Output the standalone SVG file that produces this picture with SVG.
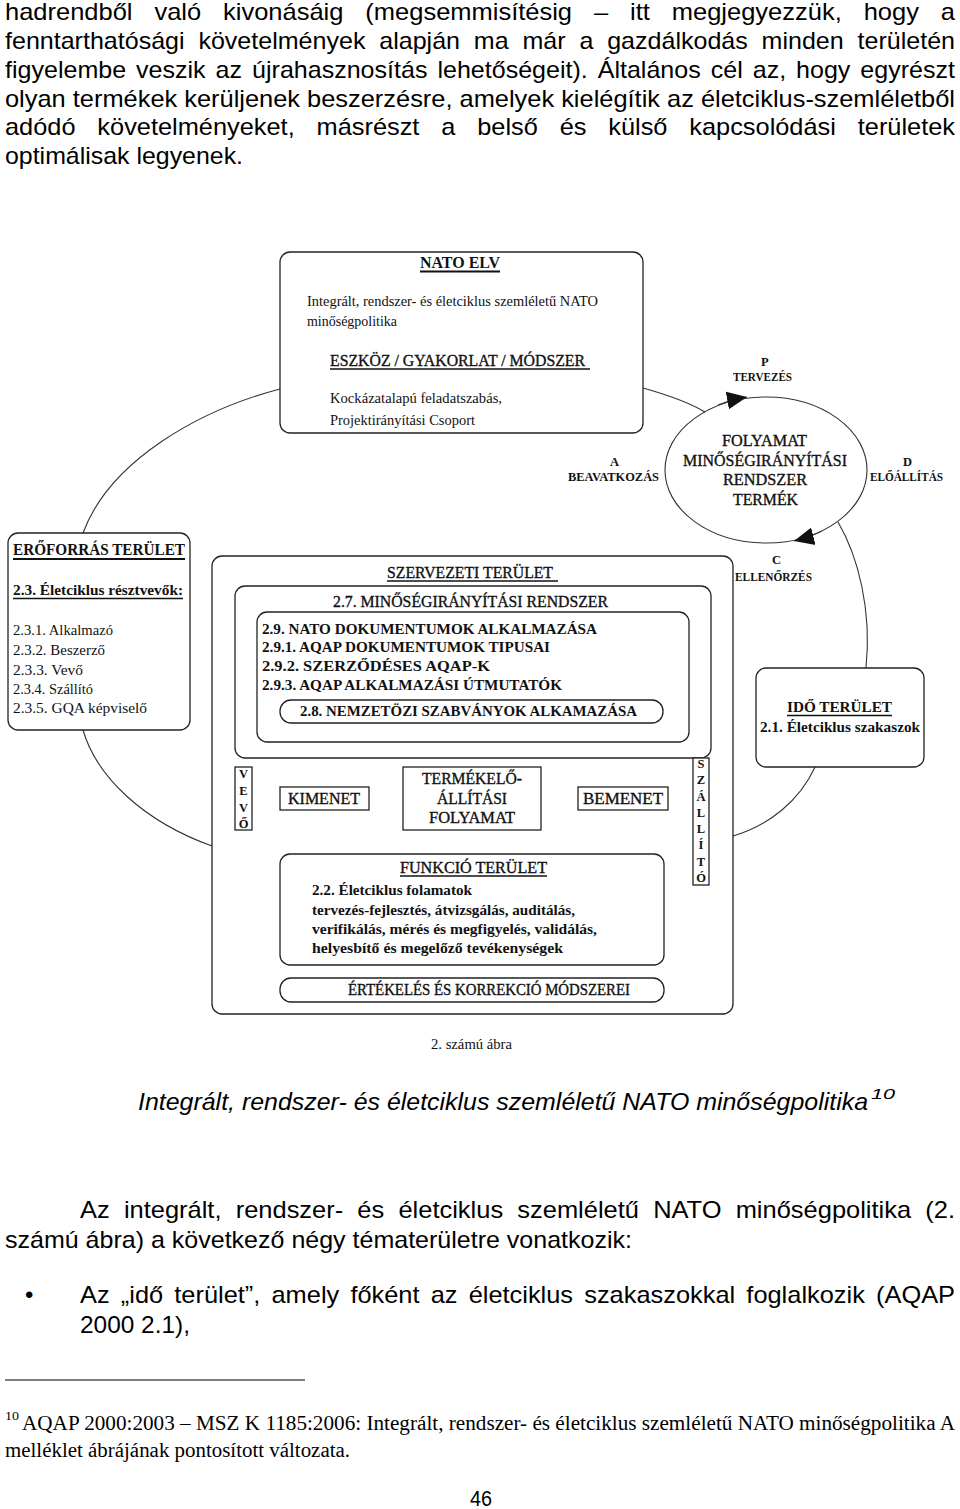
<svg xmlns="http://www.w3.org/2000/svg" width="960" height="1509" viewBox="0 0 960 1509">
<defs>
<style>
.p{font-family:"Liberation Sans",Arial,sans-serif;font-size:24px;fill:#000}
.pi{font-family:"Liberation Sans",Arial,sans-serif;font-size:24px;font-style:italic;fill:#000}
.f{font-family:"Liberation Serif","Times New Roman",serif;font-size:20px;fill:#000}
.t{font-family:"Liberation Serif","Times New Roman",serif;font-size:15px;fill:#111}
.th{stroke:#111;stroke-width:0.35}
.s{font-family:"Liberation Serif","Times New Roman",serif;font-size:12.5px;font-weight:bold;fill:#111}
.b{font-weight:bold}
.bx{fill:#fff;stroke:#222;stroke-width:1.3}
.ln{fill:none;stroke:#333;stroke-width:1.1}
.ar{fill:none;stroke:#222;stroke-width:1.2;marker-end:url(#ah)}
.ul{stroke:#111;stroke-width:1.4}
.ub{stroke:#111;stroke-width:2.2}
</style>
<marker id="ah" viewBox="0 0 10 10" refX="10" refY="5" markerWidth="9" markerHeight="9" markerUnits="userSpaceOnUse" orient="auto"><path d="M0,0 L10,5 L0,10 z" fill="#111"/></marker>
<marker id="ahL" viewBox="0 0 10 10" refX="10" refY="5" markerWidth="20" markerHeight="20" markerUnits="userSpaceOnUse" orient="auto"><path d="M0,0.5 L10,5 L0,9.5 z" fill="#111"/></marker>
</defs>
<rect width="960" height="1509" fill="#fff"/>

<g id="paragraph-top">
<text class="p" x="5" y="20" textLength="950" lengthAdjust="spacingAndGlyphs" style="word-spacing:14px">hadrendből való kivonásáig (megsemmisítésig – itt megjegyezzük, hogy a</text>
<text class="p" x="5" y="49" textLength="950" lengthAdjust="spacingAndGlyphs" style="word-spacing:6.6px">fenntarthatósági követelmények alapján ma már a gazdálkodás minden területén</text>
<text class="p" x="5" y="78" textLength="950" lengthAdjust="spacingAndGlyphs" style="word-spacing:2.9px">figyelembe veszik az újrahasznosítás lehetőségeit). Általános cél az, hogy egyrészt</text>
<text class="p" x="5" y="107" textLength="950" lengthAdjust="spacingAndGlyphs">olyan termékek kerüljenek beszerzésre, amelyek kielégítik az életciklus-szemléletből</text>
<text class="p" x="5" y="135" textLength="950" lengthAdjust="spacingAndGlyphs" style="word-spacing:14px">adódó követelményeket, másrészt a belső és külső kapcsolódási területek</text>
<text class="p" x="5" y="164" textLength="238" lengthAdjust="spacingAndGlyphs">optimálisak legyenek.</text>
</g>

<g id="pdca">
<ellipse cx="766" cy="470" rx="101" ry="73" fill="none" stroke="#333" stroke-width="1.1"/>
<text class="t th" x="722" y="446" style="font-size:16px" textLength="85" lengthAdjust="spacingAndGlyphs">FOLYAMAT</text>
<text class="t th" x="683" y="466" style="font-size:16px" textLength="164" lengthAdjust="spacingAndGlyphs">MINŐSÉGIRÁNYÍTÁSI</text>
<text class="t th" x="723" y="485" style="font-size:16px" textLength="84" lengthAdjust="spacingAndGlyphs">RENDSZER</text>
<text class="t th" x="733" y="505" style="font-size:16px" textLength="65" lengthAdjust="spacingAndGlyphs">TERMÉK</text>
</g>

<g id="connectors">
<path class="ln" d="M280,389 C200,410 110,460 83,533"/>
<path class="ln" d="M83,730 C97,778 145,822 212,846"/>
<path class="ln" d="M643,388 C668,395 690,403 705,412"/>
<path class="ln" d="M838,522 C858,556 872,610 866,668"/>
<path class="ln" d="M815,767 C800,800 770,825 733,836"/>
<path class="ln" d="M718,405 Q730,400 747,397" style="marker-end:url(#ahL)"/>
<path class="ln" d="M822,531 Q810,537 794,541" style="marker-end:url(#ahL)"/>
<line class="ar" x1="403" y1="798" x2="369" y2="798"/>
<line class="ar" x1="583" y1="798" x2="542" y2="798"/>
<line class="ar" x1="325" y1="854" x2="325" y2="811"/>
<line class="ar" x1="624" y1="854" x2="624" y2="811"/>
</g>

<g id="label-p"><text class="s" x="761" y="366">P</text><text class="s" x="733" y="381" textLength="59" lengthAdjust="spacingAndGlyphs">TERVEZÉS</text></g>
<g id="label-a"><text class="s" x="610" y="466">A</text><text class="s" x="568" y="481" textLength="91" lengthAdjust="spacingAndGlyphs">BEAVATKOZÁS</text></g>
<g id="label-d"><text class="s" x="903" y="466">D</text><text class="s" x="870" y="481" textLength="73" lengthAdjust="spacingAndGlyphs">ELŐÁLLÍTÁS</text></g>
<g id="label-c"><text class="s" x="772" y="564">C</text><text class="s" x="735" y="581" textLength="77" lengthAdjust="spacingAndGlyphs">ELLENŐRZÉS</text></g>

<g id="nato-elv">
<rect class="bx" x="280" y="252" width="363" height="181" rx="10"/>
<text class="t b" x="420" y="268" style="font-size:16px" textLength="80" lengthAdjust="spacingAndGlyphs">NATO ELV</text>
<line class="ub" x1="420" y1="271.5" x2="500" y2="271.5"/>
<text class="t" x="307" y="306" textLength="291" lengthAdjust="spacingAndGlyphs">Integrált, rendszer- és életciklus szemléletű NATO</text>
<text class="t" x="307" y="326" textLength="90" lengthAdjust="spacingAndGlyphs">minőségpolitika</text>
<text class="t th" x="330" y="366" style="font-size:16px" textLength="255" lengthAdjust="spacingAndGlyphs">ESZKÖZ / GYAKORLAT / MÓDSZER</text>
<line class="ul" x1="330" y1="369" x2="590" y2="369"/>
<text class="t" x="330" y="403" textLength="172" lengthAdjust="spacingAndGlyphs">Kockázatalapú feladatszabás,</text>
<text class="t" x="330" y="425" textLength="145" lengthAdjust="spacingAndGlyphs">Projektirányítási Csoport</text>
</g>

<g id="eroforras">
<rect class="bx" x="8" y="533" width="182" height="197" rx="10"/>
<text class="t b" x="13" y="555" style="font-size:16px" textLength="172" lengthAdjust="spacingAndGlyphs">ERŐFORRÁS TERÜLET</text>
<line class="ub" x1="13" y1="559" x2="185" y2="559"/>
<text class="t b" x="13" y="595" textLength="170" lengthAdjust="spacingAndGlyphs">2.3. Életciklus résztvevők:</text>
<line class="ul" x1="13" y1="598.5" x2="183" y2="598.5"/>
<text class="t" x="13" y="635" textLength="100" lengthAdjust="spacingAndGlyphs">2.3.1. Alkalmazó</text>
<text class="t" x="13" y="655" textLength="92" lengthAdjust="spacingAndGlyphs">2.3.2. Beszerző</text>
<text class="t" x="13" y="675" textLength="70" lengthAdjust="spacingAndGlyphs">2.3.3. Vevő</text>
<text class="t" x="13" y="694" textLength="80" lengthAdjust="spacingAndGlyphs">2.3.4. Szállító</text>
<text class="t" x="13" y="713" textLength="134" lengthAdjust="spacingAndGlyphs">2.3.5. GQA képviselő</text>
</g>

<g id="ido">
<rect class="bx" x="756" y="668" width="168" height="99" rx="10"/>
<text class="t b" x="787" y="712" textLength="105" lengthAdjust="spacingAndGlyphs">IDŐ TERÜLET</text>
<line class="ul" x1="787" y1="715.5" x2="892" y2="715.5"/>
<text class="t b" x="760" y="732" textLength="160" lengthAdjust="spacingAndGlyphs">2.1. Életciklus szakaszok</text>
</g>

<g id="szervezeti">
<rect class="bx" x="212" y="556" width="521" height="458" rx="10"/>
<text class="t th" x="387" y="578" style="font-size:16px" textLength="166" lengthAdjust="spacingAndGlyphs">SZERVEZETI TERÜLET</text>
<line class="ul" x1="387" y1="581" x2="558" y2="581"/>
</g>
<g id="mir">
<rect class="bx" x="235" y="586" width="476" height="172" rx="10"/>
<text class="t th" x="333" y="607" style="font-size:16px" textLength="275" lengthAdjust="spacingAndGlyphs">2.7. MINŐSÉGIRÁNYÍTÁSI RENDSZER</text>
</g>
<g id="nato-dok">
<rect class="bx" x="257" y="612" width="432" height="130" rx="10"/>
<text class="t b" x="262" y="634" textLength="335" lengthAdjust="spacingAndGlyphs">2.9. NATO DOKUMENTUMOK ALKALMAZÁSA</text>
<text class="t b" x="262" y="652" textLength="288" lengthAdjust="spacingAndGlyphs">2.9.1. AQAP DOKUMENTUMOK TIPUSAI</text>
<text class="t b" x="262" y="671" textLength="228" lengthAdjust="spacingAndGlyphs">2.9.2. SZERZŐDÉSES AQAP-K</text>
<text class="t b" x="262" y="690" textLength="300" lengthAdjust="spacingAndGlyphs">2.9.3. AQAP ALKALMAZÁSI ÚTMUTATÓK</text>
</g>
<g id="nemzetkozi">
<rect class="bx" x="280" y="700" width="383" height="23" rx="11"/>
<text class="t b" x="300" y="716" textLength="337" lengthAdjust="spacingAndGlyphs">2.8. NEMZETÖZI SZABVÁNYOK ALKAMAZÁSA</text>
</g>

<g id="vevo">
<rect class="bx" x="235" y="767" width="17" height="63"/>
<text class="s" x="243.5" y="778" text-anchor="middle">V</text>
<text class="s" x="243.5" y="795" text-anchor="middle">E</text>
<text class="s" x="243.5" y="812" text-anchor="middle">V</text>
<text class="s" x="243.5" y="828" text-anchor="middle">Ő</text>
</g>
<g id="szallito">
<rect class="bx" x="693" y="758" width="16" height="127"/>
<text class="s" x="701" y="768" text-anchor="middle">S</text>
<text class="s" x="701" y="784" text-anchor="middle">Z</text>
<text class="s" x="701" y="801" text-anchor="middle">Á</text>
<text class="s" x="701" y="817" text-anchor="middle">L</text>
<text class="s" x="701" y="833" text-anchor="middle">L</text>
<text class="s" x="701" y="849" text-anchor="middle">Í</text>
<text class="s" x="701" y="866" text-anchor="middle">T</text>
<text class="s" x="701" y="882" text-anchor="middle">Ó</text>
</g>
<g id="kimenet">
<rect class="bx" x="280" y="787" width="89" height="23"/>
<text class="t th" x="288" y="804" style="font-size:16px" textLength="72" lengthAdjust="spacingAndGlyphs">KIMENET</text>
</g>
<g id="termek">
<rect class="bx" x="403" y="767" width="138" height="63"/>
<text class="t th" x="422" y="784" style="font-size:16px" textLength="100" lengthAdjust="spacingAndGlyphs">TERMÉKELŐ-</text>
<text class="t th" x="437" y="804" style="font-size:16px" textLength="70" lengthAdjust="spacingAndGlyphs">ÁLLÍTÁSI</text>
<text class="t th" x="429" y="823" style="font-size:16px" textLength="86" lengthAdjust="spacingAndGlyphs">FOLYAMAT</text>
</g>
<g id="bemenet">
<rect class="bx" x="578" y="787" width="90" height="23"/>
<text class="t th" x="583" y="804" style="font-size:16px" textLength="80" lengthAdjust="spacingAndGlyphs">BEMENET</text>
</g>
<g id="funkcio">
<rect class="bx" x="280" y="854" width="384" height="111" rx="10"/>
<text class="t th" x="400" y="873" style="font-size:16px" textLength="147" lengthAdjust="spacingAndGlyphs">FUNKCIÓ TERÜLET</text>
<line class="ul" x1="400" y1="876" x2="547" y2="876"/>
<text class="t b" x="312" y="895" textLength="160" lengthAdjust="spacingAndGlyphs">2.2. Életciklus folamatok</text>
<text class="t b" x="312" y="915" textLength="263" lengthAdjust="spacingAndGlyphs">tervezés-fejlesztés, átvizsgálás, auditálás,</text>
<text class="t b" x="312" y="934" textLength="285" lengthAdjust="spacingAndGlyphs">verifikálás, mérés és megfigyelés, validálás,</text>
<text class="t b" x="312" y="953" textLength="251" lengthAdjust="spacingAndGlyphs">helyesbítő és megelőző tevékenységek</text>
</g>
<g id="ertekeles">
<rect class="bx" x="280" y="978" width="384" height="24" rx="11"/>
<text class="t th" x="348" y="995" style="font-size:16px" textLength="282" lengthAdjust="spacingAndGlyphs">ÉRTÉKELÉS ÉS KORREKCIÓ MÓDSZEREI</text>
</g>

<g id="figure-caption">
<text class="t" x="431" y="1049" style="font-size:14px" textLength="81" lengthAdjust="spacingAndGlyphs">2. számú ábra</text>
<text class="pi" x="138" y="1110" textLength="730" lengthAdjust="spacingAndGlyphs">Integrált, rendszer- és életciklus szemléletű NATO minőségpolitika</text>
<text class="pi" x="871" y="1099" style="font-size:15px" textLength="24" lengthAdjust="spacingAndGlyphs">10</text>
</g>

<g id="paragraph-bottom">
<text class="p" x="80" y="1218" textLength="875" lengthAdjust="spacingAndGlyphs" style="word-spacing:6.7px">Az integrált, rendszer- és életciklus szemléletű NATO minőségpolitika (2.</text>
<text class="p" x="5" y="1248" textLength="627" lengthAdjust="spacingAndGlyphs">számú ábra) a következő négy tématerületre vonatkozik:</text>
<text class="p" x="25" y="1303">•</text>
<text class="p" x="80" y="1303" textLength="875" lengthAdjust="spacingAndGlyphs" style="word-spacing:3.9px">Az „idő terület”, amely főként az életciklus szakaszokkal foglalkozik (AQAP</text>
<text class="p" x="80" y="1333" textLength="110" lengthAdjust="spacingAndGlyphs">2000 2.1),</text>
</g>

<g id="footnote">
<line x1="5" y1="1380" x2="305" y2="1380" stroke="#000" stroke-width="1.2"/>
<text class="f" x="5" y="1420" style="font-size:13px" textLength="14" lengthAdjust="spacingAndGlyphs">10</text>
<text class="f" x="22" y="1430" textLength="933" lengthAdjust="spacingAndGlyphs">AQAP 2000:2003 – MSZ K 1185:2006: Integrált, rendszer- és életciklus szemléletű NATO minőségpolitika A</text>
<text class="f" x="5" y="1457" textLength="345" lengthAdjust="spacingAndGlyphs">melléklet ábrájának pontosított változata.</text>
<text class="p" x="470" y="1506" style="font-size:22px" textLength="22" lengthAdjust="spacingAndGlyphs">46</text>
</g>
</svg>
